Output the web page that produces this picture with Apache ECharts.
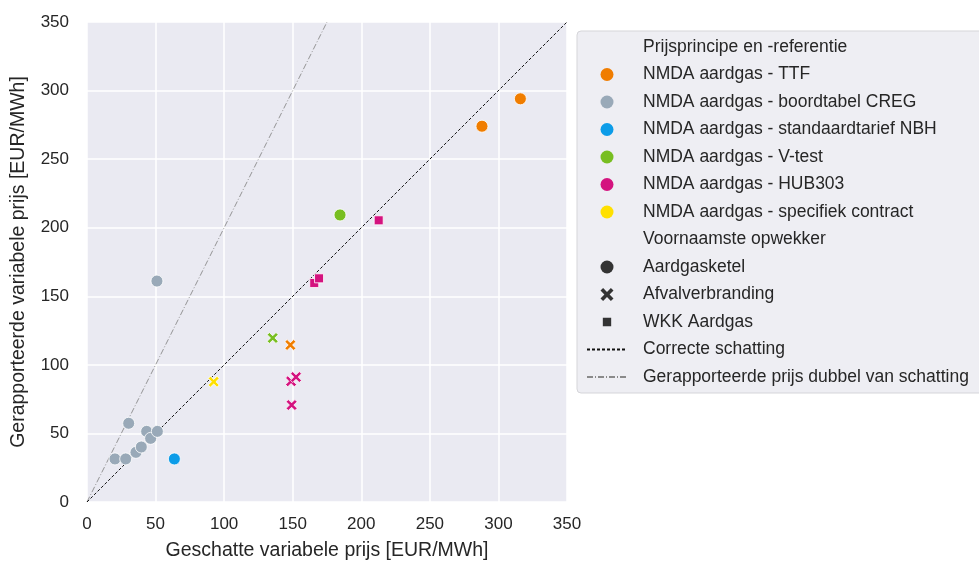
<!DOCTYPE html>
<html><head><meta charset="utf-8">
<script src="https://cdn.jsdelivr.net/npm/echarts@6/dist/echarts.min.js"></script>
<style>html,body{margin:0;padding:0;background:#fff}#c{width:979px;height:563px}</style>
</head><body><div id="c"></div>
<script>
// ---- data ----
const ttfCircle = [[288,274],[316,294]];
const ttfX = [[148.3,114.5]];
const cregCircle = [[20.4,31.4],[28.2,31.4],[35.7,36.2],[39.6,40.1],[43.5,51.5],[46.4,46.4],[51.3,51.5],[30.4,57.4],[51,161.1]];
const nbhCircle = [[63.7,31.4]];
const vtestCircle = [[184.5,209.3]];
const vtestX = [[135.4,119.6]];
const hubSquare = [[212.7,205.4],[165.7,159.7],[169.2,163.1]];
const hubX = [[148.8,88],[152.4,91.1],[149.2,70.7]];
const specX = [[92.4,87.7]];
const correctLine = [[0,0],[350,350]];
const doubleLine = [[0,0],[175,350]];
const axisTicks = [0,50,100,150,200,250,300,350];

const colorNames = ['NMDA aardgas - TTF','NMDA aardgas - boordtabel CREG','NMDA aardgas - standaardtarief NBH','NMDA aardgas - V-test','NMDA aardgas - HUB303','NMDA aardgas - specifiek contract'];
const colors = ['#F07D00','#99A9B8','#0C9CE8','#78BE21','#D4137F','#FFE000'];
const shapeNames = ['Aardgasketel','Afvalverbranding','WKK Aardgas'];
const hdr1 = 'Prijsprincipe en -referentie';
const hdr2 = 'Voornaamste opwekker';
const lineNames = ['Correcte schatting','Gerapporteerde prijs dubbel van schatting'];

const FONT = 'Liberation Sans';
const XSYM = 'path://M2,0 L5,3 L8,0 L10,2 L7,5 L10,8 L8,10 L5,7 L2,10 L0,8 L3,5 L0,2 Z';
const SQSYM = 'path://M0,0 L0.01,0 Z M14,14 L13.99,14 Z M2.5,2.5 L11.5,2.5 L11.5,11.5 L2.5,11.5 Z';
const shapes = {circle:{symbol:'circle',size:12}, x:{symbol:XSYM,size:11}, sq:{symbol:'rect',size:9}};

function sc(data, colorIdx, shape){
  return {type:'scatter', name:'_'+colorIdx+shape, data:data, symbol:shapes[shape].symbol, symbolSize:shapes[shape].size,
    itemStyle:{color:colors[colorIdx], borderColor:'#ffffff', borderWidth:0.8, opacity:1}, z:5};
}

const series = [
  {type:'line', name:lineNames[1], data:doubleLine, symbol:'none', showSymbol:false, lineStyle:{color:'#8a8a8a', width:0.9, type:[6,2,1,2]}, z:3, silent:true},
  {type:'line', name:lineNames[0], data:correctLine, symbol:'none', showSymbol:false, lineStyle:{color:'#111', width:1, type:[3,2]}, z:3, silent:true},
  sc(ttfCircle,0,'circle'), sc(ttfX,0,'x'),
  sc(cregCircle,1,'circle'), sc(nbhCircle,2,'circle'),
  sc(vtestCircle,3,'circle'), sc(vtestX,3,'x'),
  sc(hubSquare,4,'sq'), sc(hubX,4,'x'), sc(specX,5,'x')
];
// legend-only series
series.push({type:'scatter', name:hdr1, data:[], itemStyle:{color:'rgba(0,0,0,0)', opacity:0}});
colorNames.forEach((n,i)=>series.push({type:'scatter', name:n, data:[], symbol:'circle', itemStyle:{color:colors[i], opacity:1}}));
series.push({type:'scatter', name:hdr2, data:[], itemStyle:{color:'rgba(0,0,0,0)', opacity:0}});
series.push({type:'scatter', name:shapeNames[0], data:[], symbol:'circle', itemStyle:{color:'#333', opacity:1}});
series.push({type:'scatter', name:shapeNames[1], data:[], symbol:XSYM, itemStyle:{color:'#333', opacity:1}});
series.push({type:'scatter', name:shapeNames[2], data:[], symbol:SQSYM, itemStyle:{color:'#333', opacity:1}});

const legendData = [{name:hdr1, icon:'circle', itemStyle:{opacity:0}}]
  .concat(colorNames.map(n=>({name:n, icon:'circle'})))
  .concat([{name:hdr2, icon:'circle', itemStyle:{opacity:0}}])
  .concat([{name:shapeNames[0], icon:'circle'},{name:shapeNames[1], icon:XSYM},{name:shapeNames[2], icon:SQSYM}])
  .concat(lineNames.map(n=>({name:n, itemStyle:{opacity:0}})));

const axisCommon = {
  type:'value', min:0, max:350, interval:50,
  axisLine:{show:false}, axisTick:{show:false},
  splitLine:{show:true, lineStyle:{color:'#ffffff', width:1.5}},
  axisLabel:{color:'#262626', fontSize:17, fontFamily:FONT},
  nameLocation:'middle', nameTextStyle:{color:'#262626', fontSize:19.5, fontFamily:FONT}
};

const chart = echarts.init(document.getElementById('c'), null, {renderer:'canvas'});
chart.setOption({
  animation:false,
  backgroundColor:'#ffffff',
  grid:{left:87, top:22, width:480, height:480, show:true, backgroundColor:'#EAEAF2', borderWidth:0, containLabel:false, outerBoundsMode:'none'},
  xAxis:Object.assign({}, axisCommon, {name:'Geschatte variabele prijs [EUR/MWh]', nameGap:39, axisLabel:Object.assign({}, axisCommon.axisLabel, {margin:14})}),
  yAxis:Object.assign({}, axisCommon, {name:'Gerapporteerde variabele prijs [EUR/MWh]', nameGap:58, axisLabel:Object.assign({}, axisCommon.axisLabel, {margin:18})}),
  legend:{
    orient:'vertical', left:577, top:31, data:legendData,
    itemWidth:40, itemHeight:13, itemGap:9.5,
    padding:[7,20,7,9],
    backgroundColor:'#EEEEF3', borderColor:'#D5D5D9', borderWidth:1, borderRadius:4,
    textStyle:{color:'#262626', fontSize:17.5, fontFamily:FONT, padding:[0,0,0,11]},
    selectedMode:false
  },
  series:series
});
</script></body></html>
